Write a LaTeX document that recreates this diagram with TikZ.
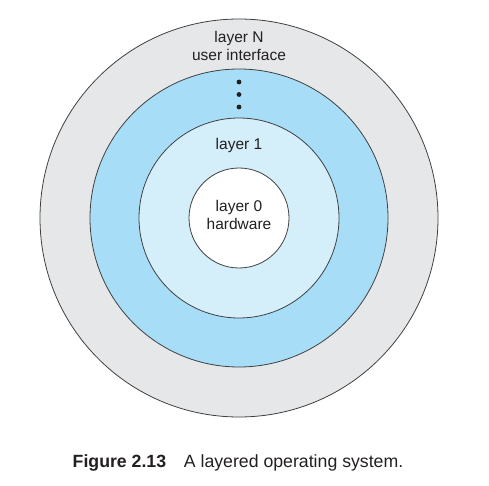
\documentclass[tikz,border=0pt]{standalone}
\usepackage{fontspec}
\setmainfont{Liberation Sans}
\usetikzlibrary{positioning}
\definecolor{ringgray}{HTML}{E6E7E8}
\definecolor{ringblue}{HTML}{A8DDF8}
\definecolor{ringpale}{HTML}{D4EEFA}
\definecolor{inktext}{HTML}{231F20}
\tikzstyle{layer}=[circle, draw=black!75, line width=0.8pt, inner sep=0pt]
\tikzstyle{tag}=[text=inktext, align=center, font=\fontsize{15.5}{17.5}\selectfont, inner sep=0pt]

\begin{document}
\begin{tikzpicture}[
        x=1pt, y=-1pt,
        dot/.style={fill=inktext},
      ]
      \useasboundingbox (0,0) rectangle (489,486);
      \node (LayerN) [layer, fill=ringgray, minimum size=398pt] at (239,218) {};
      \node (LayerMid) [layer, fill=ringblue, minimum size=298pt] at (LayerN.center) {};
      \node (Layer1) [layer, fill=ringpale, minimum size=200pt] at (LayerN.center) {};
      \node (Layer0) [layer, fill=white, minimum size=100pt] at (LayerN.center) {};
      \node (TagN) [tag] at (239,46) {layer N\\user interface};
      \node (Tag1) [tag] at (239,145) {layer 1};
      \node (Tag0) [tag] at (239,215) {layer 0\\hardware};
      \foreach \y in {82,94.5,107}
        \fill [dot] (239,\y) circle (2.4pt);
      \node (Caption) [anchor=base, text=inktext, font=\fontsize{17.7}{20}\selectfont] at (238,467)
            {\textbf{Figure 2.13}\quad A layered operating system.};
    \end{tikzpicture}
\end{document}
